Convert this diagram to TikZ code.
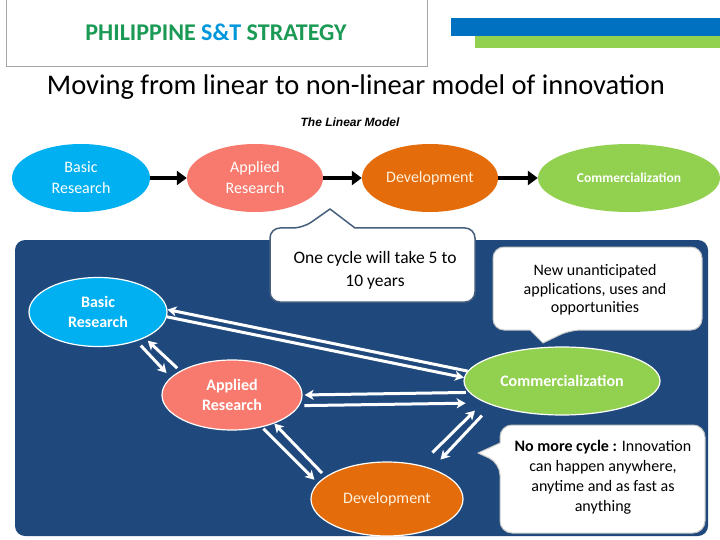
\documentclass[tikz,border=0pt]{standalone}
\usepackage{fontspec}
\setmainfont{Carlito}
\newfontfamily\arialf{Liberation Sans}
\usetikzlibrary{shapes.geometric,arrows.meta}
\definecolor{panelblue}{RGB}{31,73,125}
\definecolor{cbasic}{RGB}{0,176,240}
\definecolor{capplied}{RGB}{248,122,110}
\definecolor{cdev}{RGB}{228,108,10}
\definecolor{ccomm}{RGB}{146,208,80}
\definecolor{hgreen}{RGB}{26,154,85}
\definecolor{hblue}{RGB}{0,150,219}
\definecolor{barblue}{RGB}{0,112,192}
\definecolor{calloutline}{RGB}{70,95,125}
\definecolor{devtext}{RGB}{255,240,220}
\begin{document}
\begin{tikzpicture}[x=1pt,y=-1pt,
  oval/.style={ellipse, inner sep=0pt, align=center},
  topoval/.style={oval, text=white, font=\fontsize{16}{21}\selectfont},
  botoval/.style={oval, draw=white, line width=1.2pt, text=white, font=\bfseries\fontsize{16}{20}\selectfont},
  linarrow/.style={line width=4.5pt, -{Triangle[length=10pt,width=14pt]}},
  netarrow/.style={white, line width=3pt, -{Stealth[length=9pt,width=10pt,inset=2.5pt]}},
  callbox/.style={fill=white, line join=round},
  calltext/.style={align=center, text=black, inner sep=0pt}
]
\useasboundingbox (0,0) rectangle (720,540);
\fill[white] (0,0) rectangle (720,540);

% header
\draw[gray!70, line width=0.8pt] (6,-2) rectangle (427,66);
\node[font=\bfseries\fontsize{24}{28}\selectfont] (head) at (216,32)
  {\color{hgreen}PHILIPPINE \color{hblue}S\&T \color{hgreen}STRATEGY};
\fill[barblue] (451,18) rectangle (720,36.5);
\fill[ccomm] (475,36.5) rectangle (720,48);

\node[font=\fontsize{28.5}{32}\selectfont] (title) at (356,87)
  {Moving from linear to non-linear model of innovation};
\node[font=\arialf\bfseries\itshape\fontsize{12}{14}\selectfont] (lm) at (350,122) {The Linear Model};

% linear model
\node[topoval, fill=cbasic, minimum width=138pt, minimum height=68pt] (tb) at (81,178) {Basic\\Research};
\node[topoval, fill=capplied, minimum width=136pt, minimum height=68pt] (ta) at (255,178) {Applied\\Research};
\node[topoval, fill=cdev, text=devtext, minimum width=136pt, minimum height=68pt] (td) at (430,178) {Development};
\node[topoval, fill=ccomm, minimum width=182pt, minimum height=68pt, font=\bfseries\fontsize{13.5}{16}\selectfont] (tc) at (629,178) {Commercialization};
\draw[linarrow] (tb) -- (ta);
\draw[linarrow] (ta) -- (td);
\draw[linarrow] (td) -- (tc);

% panel
\fill[panelblue, rounded corners=10pt] (15,240) rectangle (708,536);

% callout 1
\draw[callbox, draw=calloutline, line width=1.5pt]
  (270,265) [rounded corners=10pt] -- (270,228) -- (303,228) [sharp corners] -- (330,209) -- (355,228)
  [rounded corners=10pt] -- (475,228) -- (475,302) -- (270,302) -- cycle;
\node[calltext, font=\fontsize{17.5}{23}\selectfont] (c1) at (375,270) {One cycle will take 5 to\\10 years};

% callout 2
\draw[callbox, draw=gray!45, line width=1pt]
  (493,290) [rounded corners=11pt] -- (493,247) -- (702,247) -- (702,330) -- (570,330) [sharp corners] -- (543,343) -- (530,330)
  [rounded corners=11pt] -- (493,330) -- cycle;
\node[calltext, font=\fontsize{16}{18.5}\selectfont] (c2) at (595,290) {New unanticipated\\applications, uses and\\opportunities};

% callout 3
\draw[callbox, draw=gray!45, line width=1pt]
  (600,425) [rounded corners=12pt] -- (705,425) -- (705,533) -- (500,533) -- (500,463) [sharp corners] -- (478,453) -- (500,443)
  [rounded corners=12pt] -- (500,425) -- cycle;
\node[calltext, font=\fontsize{16}{20}\selectfont] (c3) at (603,477)
  {\textbf{No more cycle :} Innovation\\can happen anywhere,\\anytime and as fast as\\anything};

% non-linear model
\node[botoval, fill=cbasic, minimum width=138pt, minimum height=69pt] (bb) at (98,312) {Basic\\Research};
\node[botoval, fill=capplied, minimum width=140pt, minimum height=70pt] (ba) at (232,395) {Applied\\Research};
\node[botoval, fill=ccomm, minimum width=196pt, minimum height=68pt] (bc) at (562,381) {Commercialization};
\node[botoval, fill=cdev, text=devtext, font=\fontsize{16}{20}\selectfont, minimum width=152pt, minimum height=74pt] (bd) at (387,499) {Development};

% Basic <-> Commercialization
\draw[netarrow] (bc.174) -- (bb.2);
\draw[netarrow] (bb.-4) -- (bc.178);
% Applied <-> Commercialization
\draw[netarrow, shorten <=3pt, shorten >=2pt] (bc.187) -- (ba.0);
\draw[netarrow, shorten <=5pt, shorten >=20pt] (ba.-9) -- (bc.196);
% Development <-> Commercialization
\draw[netarrow, shorten <=17.8pt, shorten >=12.2pt] (bd.46) -- (bc.195);
\draw[netarrow, shorten <=14.2pt, shorten >=12.3pt] (bc.199) -- (bd.34);
% Basic <-> Applied
\draw[netarrow, shorten <=6pt, shorten >=6pt] (bb.-37) -- (ba.164);
\draw[netarrow, shorten <=4pt, shorten >=4pt] (ba.155) -- (bb.-29);
% Applied <-> Development
\draw[netarrow, shorten <=2pt, shorten >=4.6pt] (ba.-47) -- (bd.167);
\draw[netarrow, shorten <=5pt] (bd.160) -- (ba.-34);
\end{tikzpicture}
\end{document}
